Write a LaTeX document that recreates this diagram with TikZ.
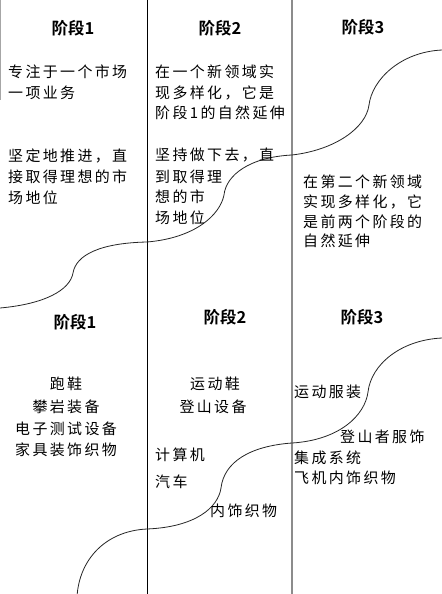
\documentclass[tikz,border=0pt]{standalone}
\usepackage{fontspec}
\newfontfamily\cjkbody{Noto Sans CJK SC}[LetterSpace=16]
\newfontfamily\cjkhead{Noto Sans CJK SC Bold}
\begin{document}
\begin{tikzpicture}[x=1bp,y=-1bp,
  head/.style={inner sep=0pt,font={\cjkhead\fontsize{16.5}{18}\selectfont}},
  body/.style={inner sep=0pt,anchor=west,font={\cjkbody\fontsize{15}{17}\selectfont}},
  bodyc/.style={inner sep=0pt,anchor=center,font={\cjkbody\fontsize{15}{17}\selectfont}},
  curve/.style={line width=0.8bp,black!85},
  divider/.style={line width=0.8bp,black},
  divgray/.style={line width=2bp,black!45}]
\useasboundingbox (0,0) rectangle (442,594);
\fill[white] (0,0) rectangle (442,594);
% dividers
\draw[divider] (147,0) -- (147,594);
\draw[divgray] (291.5,0) -- (291.5,594);
\draw[line width=1.2bp,black!35] (0.6,0) -- (0.6,100);
% top curves
\draw[curve] (0,308) .. controls (45,304) and (70,290) .. (73,273)
  .. controls (76,255) and (100,243) .. (147,242)
  .. controls (195,238) and (220,215) .. (224,195)
  .. controls (226,175) and (250,157) .. (292,155)
  .. controls (335,150) and (366,128) .. (369,105)
  .. controls (372,80) and (400,52) .. (442,50);
% bottom curves
\draw[curve] (77,597) .. controls (79,560) and (105,531) .. (147,529)
  .. controls (195,527) and (218,508) .. (221,488)
  .. controls (224,462) and (250,446) .. (292,443)
  .. controls (340,440) and (365,415) .. (368,392)
  .. controls (371,365) and (400,340) .. (442,338);
% headers
\node[head] (h1) at (73,28) {阶段1};
\node[head] (h2) at (220,28) {阶段2};
\node[head] (h3) at (363,27) {阶段3};
\node[head] (h4) at (75,322) {阶段1};
\node[head] (h5) at (225,317) {阶段2};
\node[head] (h6) at (362,317) {阶段3};
% top left
\node[body] (a1) at (8,72) {专注于一个市场};
\node[body] (a2) at (8,93) {一项业务};
\node[body] (a3) at (8,156) {坚定地推进，直};
\node[body] (a4) at (8,177) {接取得理想的市};
\node[body] (a5) at (8,198) {场地位};
% top middle
\node[body] (b1) at (155,72) {在一个新领域实};
\node[body] (b2) at (155,93) {现多样化，它是};
\node[body] (b3) at (155,113) {阶段1的自然延伸};
\node[body] (b4) at (155,155) {坚持做下去，直};
\node[body] (b5) at (155,177) {到取得理};
\node[body] (b6) at (155,197) {想的市};
\node[body] (b7) at (155,218) {场地位};
% top right
\node[body] (c1) at (303,182) {在第二个新领域};
\node[body] (c2) at (303,202) {实现多样化，它};
\node[body] (c3) at (303,222) {是前两个阶段的};
\node[body] (c4) at (303,241) {自然延伸};
% bottom left
\node[bodyc] (d1) at (66,384) {跑鞋};
\node[bodyc] (d2) at (66,407) {攀岩装备};
\node[bodyc] (d3) at (66,429) {电子测试设备};
\node[bodyc] (d4) at (66,450) {家具装饰织物};
% bottom middle
\node[bodyc] (e1) at (215,384) {运动鞋};
\node[bodyc] (e2) at (213,407) {登山设备};
\node[body] (e3) at (155,455) {计算机};
\node[body] (e4) at (155,482) {汽车};
\node[body] (e5) at (210,511) {内饰织物};
% bottom right
\node[body] (f1) at (294,392) {运动服装};
\node[body] (f2) at (340,437) {登山者服饰};
\node[body] (f3) at (294,458) {集成系统};
\node[body] (f4) at (294,478) {飞机内饰织物};
\end{tikzpicture}
\end{document}
